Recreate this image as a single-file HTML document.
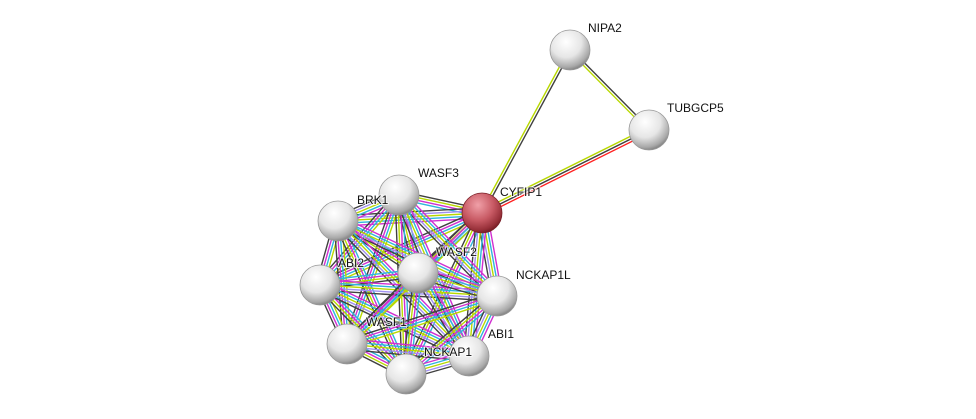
<!DOCTYPE html>
<html><head><meta charset="utf-8"><style>
html,body{margin:0;padding:0;background:#fff;width:976px;height:419px;overflow:hidden}
text{font-family:"Liberation Sans",sans-serif;font-size:12px;fill:#111;paint-order:stroke;stroke:#fff;stroke-width:2px;stroke-opacity:0.7}
</style></head><body>
<svg id="s" width="976" height="419" xmlns="http://www.w3.org/2000/svg">
<defs>
<radialGradient id="g" cx="40%" cy="30%" r="70%"><stop offset="0" stop-color="#fff"/><stop offset="0.55" stop-color="#e6e6e6"/><stop offset="0.9" stop-color="#a8a8a8"/><stop offset="1" stop-color="#888"/></radialGradient>
<radialGradient id="r" cx="40%" cy="30%" r="70%"><stop offset="0" stop-color="#f0a0a8"/><stop offset="0.55" stop-color="#c85a64"/><stop offset="0.9" stop-color="#962f38"/><stop offset="1" stop-color="#7a2028"/></radialGradient>
</defs>
<g id="edges"></g>
<g id="nodes"></g>
<text x="588" y="32">NIPA2</text>
<text x="667" y="112">TUBGCP5</text>
<text x="500" y="196">CYFIP1</text>
<text x="418" y="177">WASF3</text>
<text x="357" y="204">BRK1</text>
<text x="338" y="267">ABI2</text>
<text x="436" y="256">WASF2</text>
<text x="516" y="279">NCKAP1L</text>
<text x="366" y="326">WASF1</text>
<text x="424" y="356">NCKAP1</text>
<text x="488" y="338">ABI1</text>
</svg>
<script>
var N={NIPA2:[570,50],TUBGCP5:[649,130],CYFIP1:[482,213],WASF3:[399,195],BRK1:[338,221],ABI2:[320,285],WASF2:[418,273],NCKAP1L:[497,296],WASF1:[347,344],NCKAP1:[406,374],ABI1:[469,356]};
var E=document.getElementById('edges'),ns='http://www.w3.org/2000/svg';
function edge(a,b,cols){var p=N[a],q=N[b],dx=q[0]-p[0],dy=q[1]-p[1],l=Math.hypot(dx,dy),nx=-dy/l,ny=dx/l,k=cols.length;
for(var i=0;i<k;i++){var o=(i-(k-1)/2)*2.6,L=document.createElementNS(ns,'line');
L.setAttribute('x1',p[0]+nx*o);L.setAttribute('y1',p[1]+ny*o);L.setAttribute('x2',q[0]+nx*o);L.setAttribute('y2',q[1]+ny*o);
L.setAttribute('stroke',cols[i]);L.setAttribute('stroke-width','1.4');E.appendChild(L);}}
var C=['CYFIP1','WASF3','BRK1','ABI2','WASF2','NCKAP1L','WASF1','NCKAP1','ABI1'];
for(var i=0;i<C.length;i++)for(var j=i+1;j<C.length;j++){var s=(i*3+j)%3;var cols=s==0?['#b8d800','#2fb4dc','#d030d0','#404040']:s==1?['#2fb4dc','#d030d0','#b8d800','#404040']:['#d030d0','#2fb4dc','#b8d800','#a090f0','#404040'];edge(C[i],C[j],cols);}
edge('CYFIP1','NIPA2',['#b8d800','#404040']);
edge('NIPA2','TUBGCP5',['#404040','#b8d800']);
edge('CYFIP1','TUBGCP5',['#b8d800','#404040','#ff2020']);
var G=document.getElementById('nodes');
for(var k in N){var c=document.createElementNS(ns,'circle');c.setAttribute('cx',N[k][0]);c.setAttribute('cy',N[k][1]);c.setAttribute('r',20);c.setAttribute('fill',k=='CYFIP1'?'url(#r)':'url(#g)');c.setAttribute('stroke',k=='CYFIP1'?'#7a2028':'#999');c.setAttribute('stroke-width','0.8');G.appendChild(c);}
</script>
</body></html>
